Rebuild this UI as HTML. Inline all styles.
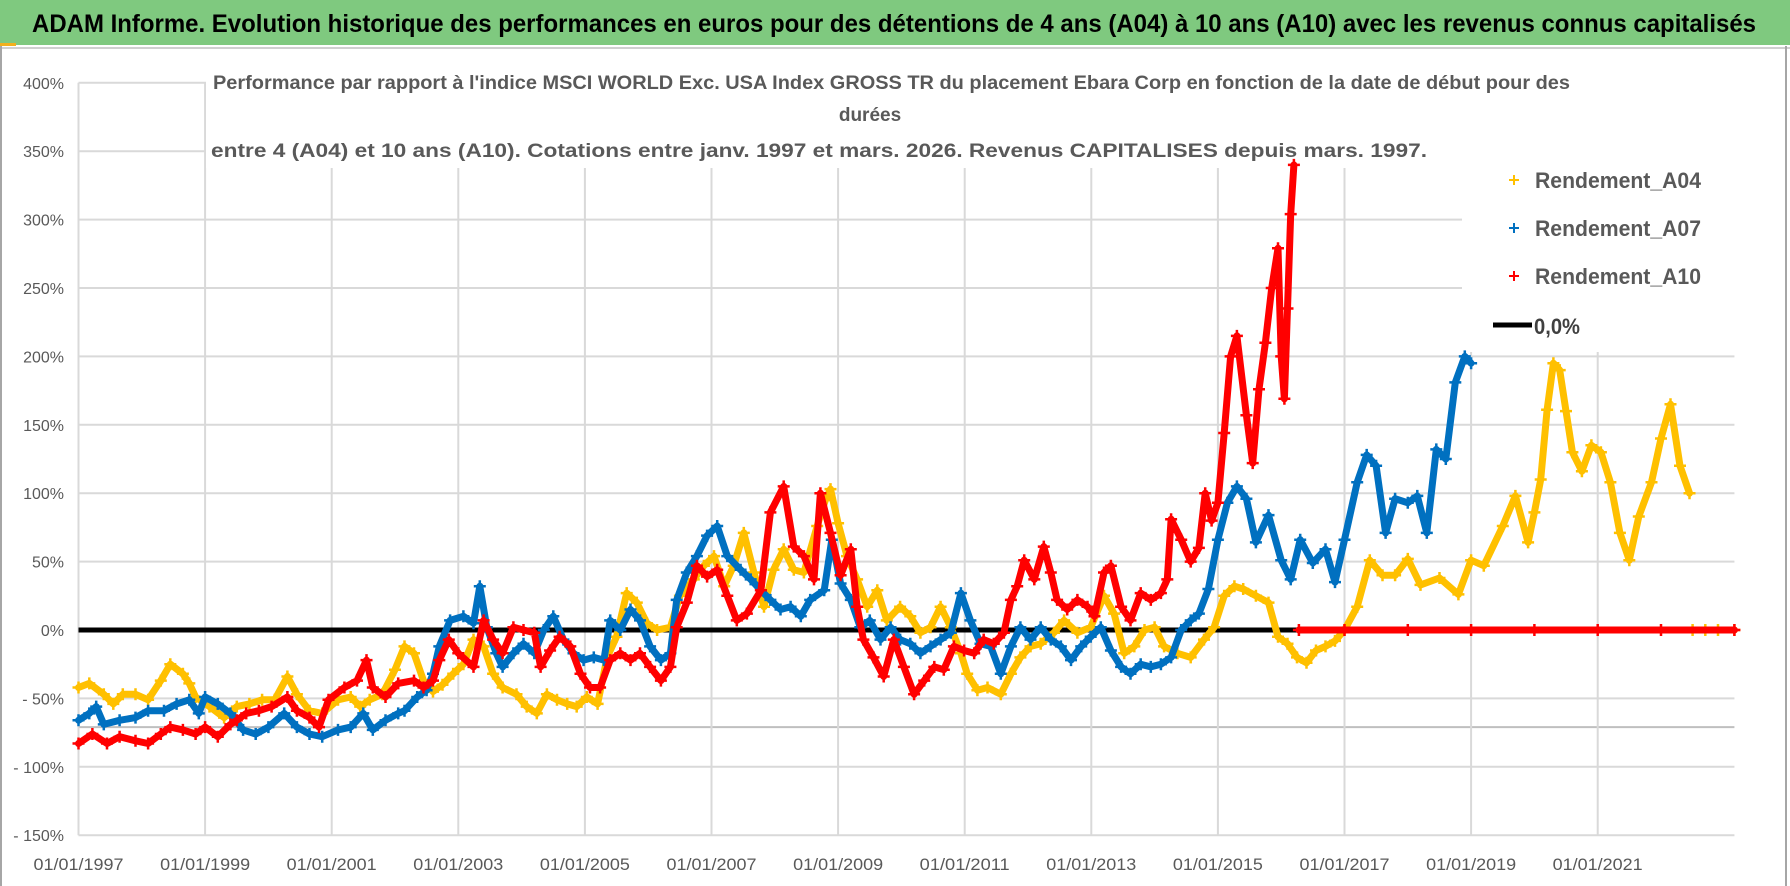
<!DOCTYPE html>
<html><head><meta charset="utf-8"><style>
html,body{margin:0;padding:0;background:#fff;}
svg{display:block;}
text{font-family:"Liberation Sans Narrow","Liberation Sans",sans-serif;}
</style></head><body>
<svg id="chart" width="1790" height="886" viewBox="0 0 1790 886" xmlns="http://www.w3.org/2000/svg">
  <rect x="0" y="0" width="1790" height="886" fill="#fff"/>
  <rect x="0" y="0" width="1790" height="45" fill="#7fc97f"/>
  <rect x="0" y="43" width="16" height="3" fill="#f2b01e"/>
  <line x1="0" y1="48" x2="1790" y2="48" stroke="#d0d0d0" stroke-width="2"/>
  <text x="32" y="32" font-size="25" font-weight="bold" fill="#000" textLength="1724" lengthAdjust="spacingAndGlyphs">ADAM Informe. Evolution historique des performances en euros pour des détentions de 4 ans (A04) à 10 ans (A10) avec les revenus connus capitalisés</text>
  <g id="grid"></g>
  <rect x="206" y="62" width="1376" height="106" fill="#fff"/>
  <rect x="1462" y="60" width="322" height="292" fill="#fff"/>
  <g id="axes"></g>
  <g id="series"></g>
  <g font-weight="bold" fill="#595959" font-size="19">
    <text x="213" y="89" textLength="1357" lengthAdjust="spacingAndGlyphs">Performance par rapport à l'indice MSCI WORLD Exc. USA Index GROSS TR  du placement Ebara Corp en fonction de la date de début pour des</text>
    <text x="870" y="121" text-anchor="middle">durées</text>
    <text x="211" y="157" textLength="1216" lengthAdjust="spacingAndGlyphs">entre 4 (A04) et 10 ans (A10).  Cotations entre janv. 1997 et mars. 2026.  Revenus CAPITALISES depuis mars. 1997.</text>
  </g>
  <g font-size="22" font-weight="bold" fill="#595959">
    <g>
      <path d="M1509 180h10M1514 175v10" stroke="#ffc000" stroke-width="2"/>
      <text x="1535" y="188" textLength="166" lengthAdjust="spacingAndGlyphs">Rendement_A04</text>
    </g>
    <g>
      <path d="M1509 228h10M1514 223v10" stroke="#0070c0" stroke-width="2"/>
      <text x="1535" y="236" textLength="166" lengthAdjust="spacingAndGlyphs">Rendement_A07</text>
    </g>
    <g>
      <path d="M1509 276h10M1514 271v10" stroke="#ff0000" stroke-width="2"/>
      <text x="1535" y="284" textLength="166" lengthAdjust="spacingAndGlyphs">Rendement_A10</text>
    </g>
    <g>
      <line x1="1493" y1="325" x2="1532" y2="325" stroke="#000" stroke-width="5"/>
      <text x="1534" y="334" fill="#404040" textLength="46" lengthAdjust="spacingAndGlyphs">0,0%</text>
    </g>
  </g>
  <line x1="1786" y1="46" x2="1786" y2="886" stroke="#a6a6a6" stroke-width="2"/>
  <line x1="1" y1="46" x2="1" y2="886" stroke="#a6a6a6" stroke-width="2"/>
</svg>
<script>
const yTickValues = [400,350,300,250,200,150,100,50,0,-50,-100,-150];
const yTickLabels = ["400%","350%","300%","250%","200%","150%","100%","50%","0%","- 50%","- 100%","- 150%"];
const xTickYears = [1997,1999,2001,2003,2005,2007,2009,2011,2013,2015,2017,2019,2021];
const xTickLabels = ["01/01/1997","01/01/1999","01/01/2001","01/01/2003","01/01/2005","01/01/2007","01/01/2009","01/01/2011","01/01/2013","01/01/2015","01/01/2017","01/01/2019","01/01/2021"];

const a04Years = [1997.0,1997.17,1997.4,1997.55,1997.7,1997.9,1998.1,1998.3,1998.45,1998.65,1998.75,1998.85,1999.07,1999.3,1999.5,1999.7,1999.9,2000.1,2000.3,2000.45,2000.65,2000.85,2001.1,2001.3,2001.45,2001.6,2001.8,2002.0,2002.15,2002.3,2002.45,2002.6,2002.75,2002.92,2003.08,2003.24,2003.4,2003.55,2003.7,2003.92,2004.08,2004.24,2004.4,2004.56,2004.72,2004.87,2005.03,2005.2,2005.35,2005.5,2005.66,2005.82,2005.98,2006.14,2006.35,2006.5,2006.72,2006.88,2007.04,2007.2,2007.35,2007.51,2007.67,2007.83,2007.98,2008.14,2008.3,2008.46,2008.67,2008.8,2008.88,2009.0,2009.14,2009.3,2009.46,2009.62,2009.77,2009.98,2010.14,2010.3,2010.46,2010.62,2010.78,2010.94,2011.04,2011.2,2011.36,2011.57,2011.73,2011.88,2012.04,2012.2,2012.41,2012.57,2012.78,2012.99,2013.2,2013.36,2013.52,2013.68,2013.84,2014.0,2014.15,2014.36,2014.57,2014.78,2014.94,2015.1,2015.26,2015.4,2015.6,2015.8,2015.95,2016.1,2016.25,2016.4,2016.55,2016.7,2016.85,2017.0,2017.2,2017.4,2017.6,2017.8,2018.0,2018.2,2018.5,2018.8,2019.0,2019.2,2019.5,2019.7,2019.9,2020.0,2020.1,2020.2,2020.3,2020.4,2020.5,2020.6,2020.75,2020.9,2021.05,2021.2,2021.35,2021.5,2021.65,2021.85,2022.0,2022.15,2022.3,2022.45,2022.47,2022.5,2022.7,2022.9,2023.16];
const a04Values = [-42,-39,-47,-54,-47,-47,-51,-37,-25,-32,-39,-49,-56,-64,-56,-54,-51,-51,-34,-47,-59,-61,-51,-49,-56,-51,-47,-29,-12,-17,-37,-45,-40,-32,-25,-7,-12,-32,-42,-47,-56,-61,-47,-51,-54,-56,-49,-54,-20,-5,27,20,5,0,2,25,37,47,54,32,47,71,42,17,44,59,44,42,76,95,103,78,54,37,17,29,7,17,10,-2,2,17,2,-17,-32,-44,-42,-47,-32,-20,-12,-10,-2,7,-2,2,25,12,-17,-12,0,2,-12,-17,-20,-7,2,25,32,30,25,20,-5,-10,-20,-24,-15,-12,-8,0,17,51,40,40,52,33,38,26,51,47,76,98,64,86,110,161,195,190,160,130,116,135,130,108,71,51,83,108,140,165,120,100,null,0,0,0,0];

const a07Years = [1997.0,1997.17,1997.28,1997.4,1997.65,1997.9,1998.1,1998.35,1998.55,1998.75,1998.9,1999.0,1999.2,1999.4,1999.6,1999.8,2000.0,2000.25,2000.45,2000.65,2000.85,2001.1,2001.3,2001.5,2001.65,2001.85,2002.05,2002.15,2002.35,2002.5,2002.6,2002.7,2002.87,2003.08,2003.24,2003.34,2003.45,2003.6,2003.7,2003.87,2004.03,2004.2,2004.35,2004.5,2004.66,2004.82,2004.98,2005.14,2005.3,2005.4,2005.56,2005.72,2005.87,2006.03,2006.2,2006.35,2006.45,2006.61,2006.77,2006.93,2007.09,2007.25,2007.46,2007.62,2007.78,2007.93,2008.09,2008.25,2008.41,2008.56,2008.78,2008.9,2009.04,2009.2,2009.35,2009.5,2009.67,2009.83,2009.98,2010.14,2010.3,2010.46,2010.62,2010.78,2010.94,2011.09,2011.25,2011.41,2011.57,2011.73,2011.88,2012.04,2012.2,2012.36,2012.52,2012.68,2012.84,2012.99,2013.15,2013.31,2013.47,2013.62,2013.78,2013.94,2014.1,2014.26,2014.42,2014.57,2014.7,2014.85,2015.0,2015.15,2015.3,2015.45,2015.6,2015.8,2016.0,2016.15,2016.3,2016.5,2016.7,2016.85,2017.0,2017.2,2017.35,2017.5,2017.65,2017.8,2018.0,2018.15,2018.3,2018.45,2018.6,2018.75,2018.9,2019.0];
const a07Values = [-66,-61,-56,-69,-66,-64,-59,-59,-54,-51,-61,-49,-54,-61,-73,-76,-71,-61,-71,-76,-78,-73,-71,-61,-73,-66,-61,-59,-49,-44,-32,-12,7,10,5,32,2,-17,-27,-17,-10,-17,0,10,-7,-17,-22,-20,-22,7,0,15,7,-12,-22,-17,22,42,54,69,76,54,44,37,29,22,15,17,10,22,29,66,34,22,2,7,-7,2,-7,-10,-17,-12,-7,-2,27,7,-10,-12,-32,-12,2,-7,2,-7,-12,-22,-12,-5,2,-15,-27,-32,-25,-27,-25,-20,0,7,12,30,66,93,105,96,64,84,51,37,66,49,59,35,66,108,128,120,71,96,93,98,71,132,125,181,200,195];

const a10Years = [1997.0,1997.22,1997.45,1997.65,1997.9,1998.1,1998.3,1998.45,1998.65,1998.85,1999.0,1999.2,1999.4,1999.5,1999.65,1999.85,2000.05,2000.3,2000.45,2000.65,2000.8,2000.95,2001.2,2001.4,2001.55,2001.65,2001.85,2002.05,2002.3,2002.45,2002.6,2002.7,2002.85,2003.0,2003.24,2003.4,2003.55,2003.7,2003.87,2004.03,2004.2,2004.3,2004.45,2004.6,2004.77,2004.93,2005.08,2005.24,2005.4,2005.56,2005.72,2005.87,2006.03,2006.2,2006.35,2006.45,2006.61,2006.77,2006.93,2007.09,2007.25,2007.4,2007.56,2007.78,2007.93,2008.14,2008.3,2008.46,2008.62,2008.72,2008.88,2009.04,2009.2,2009.3,2009.4,2009.56,2009.72,2009.88,2010.04,2010.2,2010.36,2010.52,2010.67,2010.83,2010.99,2011.15,2011.3,2011.46,2011.62,2011.73,2011.83,2011.94,2012.1,2012.25,2012.36,2012.46,2012.62,2012.78,2012.94,2013.05,2013.2,2013.31,2013.47,2013.62,2013.78,2013.94,2014.1,2014.2,2014.26,2014.42,2014.57,2014.7,2014.8,2014.9,2015.0,2015.1,2015.2,2015.3,2015.45,2015.55,2015.65,2015.75,2015.85,2015.95,2016.0,2016.05,2016.1,2016.15,2016.2,2016.25,2016.28,2017.0,2018.0,2019.0,2020.0,2021.0,2022.0,2023.16];
const a10Values = [-83,-76,-83,-78,-81,-83,-76,-71,-73,-76,-71,-78,-69,-66,-61,-59,-56,-49,-59,-64,-71,-51,-42,-37,-22,-42,-49,-39,-37,-42,-37,-22,-7,-17,-27,7,-7,-17,2,0,-2,-27,-15,-5,-12,-32,-42,-42,-22,-17,-22,-17,-27,-37,-27,2,20,47,39,44,25,7,12,29,86,105,61,54,37,100,71,40,59,17,-7,-20,-34,-7,-27,-47,-37,-27,-29,-12,-15,-17,-7,-10,-2,22,32,51,37,61,42,22,15,22,17,10,42,47,17,7,27,22,27,37,81,66,50,60,100,80,93,144,200,215,157,122,176,210,250,279,200,169,235,304,340,null,0,0,0,0,0,0,0,0];

const X0 = 78.5, XPY = 63.3, Y0 = 630, YPP = 1.368;
function xScale(yr){ return X0 + (yr - 1997) * XPY; }
function yScale(p){ return Y0 - p * YPP; }
const NS = "http://www.w3.org/2000/svg";
function mk(tag, attrs, parent){ const e = document.createElementNS(NS, tag); for (const k in attrs) e.setAttribute(k, attrs[k]); parent.appendChild(e); return e; }

const grid = document.getElementById('grid');
const axes = document.getElementById('axes');
const xMin = xScale(1997), xMax = xScale(2023.16);
yTickValues.forEach((v,i) => {
  const gl = mk('line', {x1:xMin, x2:xMax, y1:yScale(v), y2:yScale(v), stroke:'#d9d9d9', 'stroke-width':2}, grid);
  
  
  const t = mk('text', {x:64, y:yScale(v)+6, 'text-anchor':'end', 'font-size':16, fill:'#595959'}, axes);
  
  
  t.textContent = yTickLabels[i];
});
const refLine = mk('line', {x1:xMin, x2:xMax, y1:yScale(-71), y2:yScale(-71), stroke:'#bfbfbf', 'stroke-width':2}, grid);


xTickYears.forEach((yr,i) => {
  const gl = mk('line', {x1:xScale(yr), x2:xScale(yr), y1:yScale(400), y2:yScale(-150), stroke:'#d9d9d9', 'stroke-width':2}, grid);
  
  
  const t = mk('text', {x:xScale(yr), y:870, 'text-anchor':'middle', 'font-size':17, fill:'#595959', textLength:90, lengthAdjust:'spacingAndGlyphs'}, axes);
  
  
  t.textContent = xTickLabels[i];
});

const series = document.getElementById('series');
const zl = mk('line', {x1:xMin, x2:xMax, y1:yScale(0), y2:yScale(0), stroke:'#000', 'stroke-width':5}, series);



function drawSeries(name, years, vals, color){
  const g = mk('g', {}, series);
  
  
  let seg = [];
  const segs = [];
  years.forEach((yr,i) => {
    if (vals[i] === null) { if (seg.length) segs.push(seg); seg = []; return; }
    seg.push([xScale(yr), yScale(vals[i])]);
  });
  if (seg.length) segs.push(seg);
  segs.forEach(s => {
    const pl = mk('polyline', {points:s.map(p=>p[0].toFixed(1)+','+p[1].toFixed(1)).join(' '), fill:'none', stroke:color, 'stroke-width':7, 'stroke-linejoin':'round', 'stroke-linecap':'round'}, g);
    
    
  });
  let d = '';
  segs.forEach(s => s.forEach(p => { d += 'M'+(p[0]-6).toFixed(1)+' '+p[1].toFixed(1)+'h12M'+p[0].toFixed(1)+' '+(p[1]-6).toFixed(1)+'v12'; }));
  const mp = mk('path', {d:d, stroke:color, 'stroke-width':2.5, fill:'none'}, g);
  
  
}
drawSeries('series-a04', a04Years, a04Values, '#ffc000');
drawSeries('series-a07', a07Years, a07Values, '#0070c0');
drawSeries('series-a10', a10Years, a10Values, '#ff0000');
</script>
</body></html>
